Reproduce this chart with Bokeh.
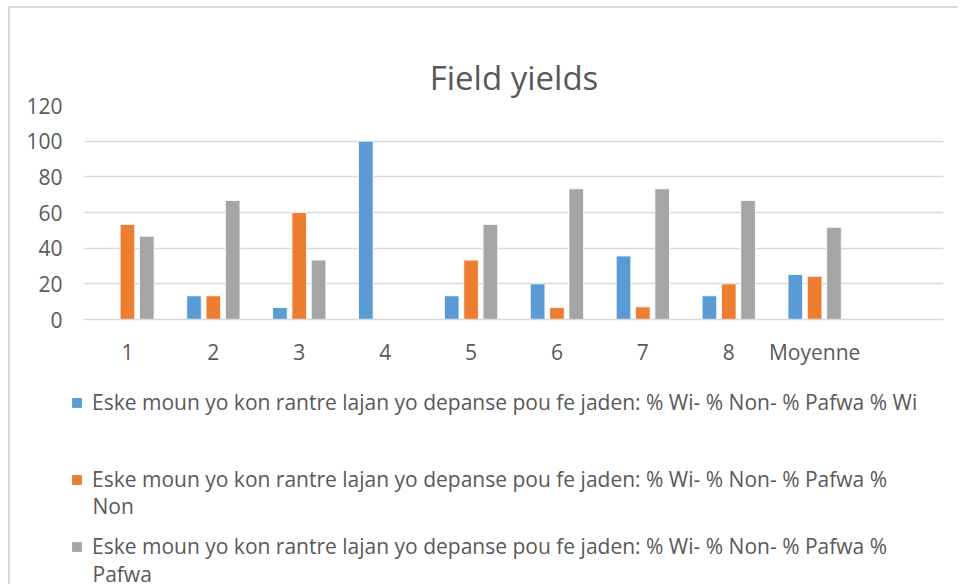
from bokeh.plotting import figure
from bokeh.layouts import column
from bokeh.models import (ColumnDataSource, FactorRange, Range1d, FixedTicker,
                          Legend, LegendItem, Label)
from bokeh.transform import dodge
from bokeh.embed import file_html
from bokeh.resources import INLINE

categories = ["1", "2", "3", "4", "5", "6", "7", "8", "Moyenne", " "]
wi = [0, 13.3, 6.7, 100, 13.3, 20, 35.6, 13.3, 25.2, 0]
non = [53.3, 13.3, 60, 0, 33.3, 6.7, 7.1, 20, 24.2, 0]
pafwa = [46.7, 66.7, 33.3, 0, 53.3, 73.3, 73.3, 66.7, 51.7, 0]
y_ticks = [0, 20, 40, 60, 80, 100, 120]
title_text = "Field yields"
base_label = "Eske moun yo kon rantre lajan yo depanse pou fe jaden: % Wi- % Non- % Pafwa %"
legend_first_lines = [base_label + " Wi", base_label, base_label]
legend_second_lines = ["", "Non", "Pafwa"]

FONT = "Open Sans"
TXT = "#595959"
GRID = "#d9d9d9"
colors = ["#5B9BD5", "#ED7D31", "#A5A5A5"]
fields = ["wi", "non", "pafwa"]
offsets = [-0.225, 0.0, 0.225]

source = ColumnDataSource(dict(cat=categories, wi=wi, non=non, pafwa=pafwa))

# ---- chart ----
p = figure(width=950, height=371, x_range=FactorRange(*categories),
           y_range=Range1d(0, 120), output_backend="svg", toolbar_location=None,
           min_border_left=74, min_border_right=17, min_border_top=97,
           min_border_bottom=60, frame_align=False,
           styles={"border-top": "2px solid #d9d9d9", "border-left": "2px solid #d9d9d9"})

p.title.text = title_text
p.title.text_font = FONT
p.title.text_font_size = "33px"
p.title.text_font_style = "normal"
p.title.text_color = TXT
p.title.align = "center"
p.title.vertical_align = "middle"
p.title.standoff = 10

for f, c, o in zip(fields, colors, offsets):
    p.vbar(x=dodge("cat", o, range=p.x_range), top=f, width=0.17, source=source,
           fill_color=c, line_color="white", line_width=0.8)

p.outline_line_color = None
p.xgrid.grid_line_color = None
p.ygrid.grid_line_color = GRID
p.ygrid.grid_line_width = 1.3
p.yaxis.ticker = FixedTicker(ticks=y_ticks)
p.yaxis.axis_line_color = None
p.yaxis.major_tick_line_color = None
p.yaxis.major_tick_out = 0
p.yaxis.minor_tick_line_color = None
p.yaxis.major_label_standoff = 22
p.xaxis.axis_line_color = GRID
p.xaxis.axis_line_width = 1.3
p.xaxis.major_tick_line_color = None
p.xaxis.major_tick_out = 0
p.xaxis.major_label_standoff = 18
for ax in (p.xaxis, p.yaxis):
    ax.major_label_text_font = FONT
    ax.major_label_text_font_size = "21px"
    ax.major_label_text_color = TXT

# ---- legend panel (same series, bars kept out of view) ----
q = figure(width=950, height=207, x_range=FactorRange(*categories),
           y_range=Range1d(1000, 1001), output_backend="svg", toolbar_location=None,
           x_axis_location=None, y_axis_location=None, frame_align=False,
           min_border=0, styles={"border-left": "2px solid #d9d9d9"})
q.grid.visible = False
q.outline_line_color = None

legend_y = [168, 91, 24]
second_y = [0, 79, 11]
for f, c, o, first, second, ly, sy in zip(fields, colors, offsets, legend_first_lines,
                                          legend_second_lines, legend_y, second_y):
    r = q.vbar(x=dodge("cat", o, range=q.x_range), top=f, width=0.17, source=source,
               fill_color=c, line_color=c)
    lg = Legend(items=[LegendItem(label=first, renderers=[r])], location=(61, ly),
                orientation="vertical", border_line_color=None,
                background_fill_alpha=0, padding=0, margin=0,
                glyph_width=11, glyph_height=11, label_standoff=10,
                label_text_font=FONT, label_text_font_size="21px",
                label_text_color=TXT)
    q.add_layout(lg, "center")
    if second:
        q.add_layout(Label(x=82, y=sy, x_units="screen", y_units="screen", text=second,
                           text_font=FONT, text_font_size="21px", text_color=TXT,
                           text_baseline="middle", text_align="left"))

layout = column(p, q, spacing=0, styles={"margin-left": "8px", "margin-top": "6px"})

open("out.html", "w").write(file_html(layout, INLINE))
